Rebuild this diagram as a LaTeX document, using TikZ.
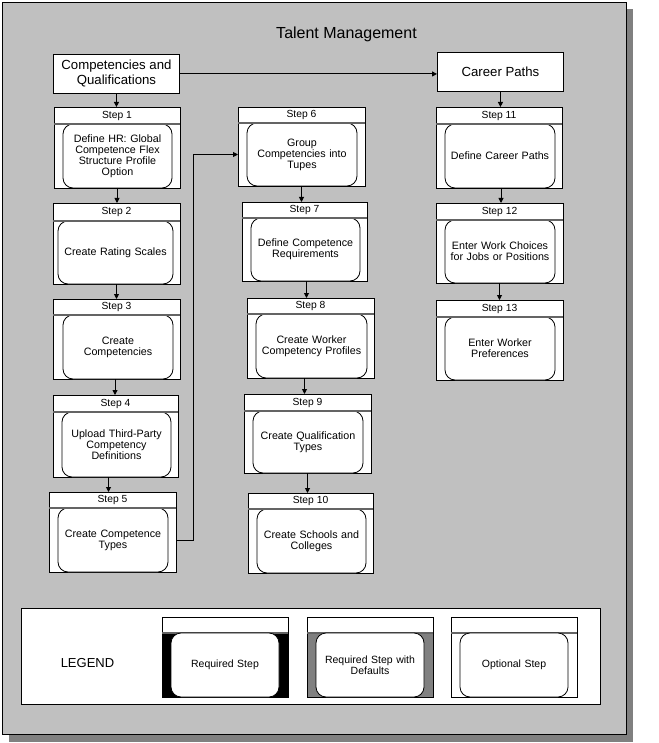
\documentclass[tikz,border=0pt]{standalone}
\usepackage{fontspec}
\setmainfont{Liberation Sans}
\usetikzlibrary{arrows.meta}
\definecolor{panel}{RGB}{192,192,192}
\definecolor{shadowc}{RGB}{128,128,128}
\definecolor{defc}{RGB}{128,128,128}
\definecolor{hdrc}{RGB}{100,100,100}
\tikzset{
 outerbox/.style={draw=black, line width=0.9pt, fill=white, inner sep=0pt, outer sep=0pt},
 hdrbox/.style={draw=black, line width=0.9pt, fill=white, inner sep=0pt, outer sep=0pt, font=\fontsize{10.3}{12}\selectfont},
 innerbox/.style={draw=black, line width=0.8pt, fill=white, rounded corners=10pt, inner sep=0pt, outer sep=0pt, align=center, font=\fontsize{10.7}{11}\selectfont},
 hdrline/.style={draw=hdrc, line width=1.3pt},
 arr/.style={draw=black, line width=0.9pt, -{Triangle[length=5pt,width=5pt]}},
 topbox/.style={draw=black, line width=0.9pt, fill=white, inner sep=0pt, minimum width=126pt, minimum height=39pt, align=center, font=\fontsize{13.2}{15}\selectfont, anchor=north west},
}
\newcommand\stepbox[9]{%
 \node[outerbox, anchor=north west, minimum width=#4pt, minimum height=#5pt] (s#1) at (#2,#3) {};
 \node[hdrbox, anchor=north west, minimum width=#4pt, minimum height=#6pt] (s#1h) at (#2,#3) {Step #1};
 \node[innerbox, anchor=north west, minimum width={(#4-#7-#8)*1pt}, minimum height={(#5-#6)*1pt}, text width={(#4-#7-#8-4)*1pt}] (s#1i) at (#2+#7,#3+#6) {#9};
 \draw[hdrline] (s#1h.south west) -- (s#1h.south east);
}
\newcommand\legbox[6]{%
 \node[outerbox, fill=#4, anchor=north west, minimum width=126pt, minimum height=80pt] (#1) at (#2,#3) {};
 \node[hdrbox, anchor=north west, minimum width=126pt, minimum height=16pt] (#1h) at (#2,#3) {};
 \draw[hdrline] (#1h.south west) -- (#1h.south east);
 \node[innerbox, font=\fontsize{10.5}{10.7}\selectfont, anchor=north west, minimum width=108pt, minimum height=64pt, text width=104pt] (#1i) at (#2+#5,#3+16) {#6};
}
\begin{document}
\begin{tikzpicture}[x=1pt,y=-1pt]
\useasboundingbox (0,0) rectangle (658,743);
% shadow and panel
\fill[shadowc] (9,9) rectangle (633,742);
\draw[fill=panel, line width=0.9pt] (2,2) rectangle (626,734);
\node[font=\fontsize{16}{19}\selectfont] (title) at (346.5,34) {Talent Management};
% top boxes
\node[topbox] (comp) at (53,54) {Competencies and\\Qualifications};
\node[topbox] (career) at (437,52) {Career Paths};
% steps
\stepbox{1}{54}{107}{126}{81}{17}{9}{8}{Define HR: Global\\Competence Flex\\Structure Profile\\Option}
\stepbox{2}{53}{203}{127}{81}{18}{5}{7}{Create Rating Scales}
\stepbox{3}{53}{299}{127}{80}{16}{10}{7}{Create\\Competencies}
\stepbox{4}{53}{395}{125}{82}{17}{9}{7}{Upload Third-Party\\Competency\\Definitions}
\stepbox{5}{49}{492}{127}{80}{16}{9}{8}{Create Competence\\Types}
\stepbox{6}{238}{107}{127}{79}{16}{9}{8}{Group\\Competencies into\\Tupes}
\stepbox{7}{242}{202}{125}{79}{16}{9}{7}{Define Competence\\Requirements}
\stepbox{8}{247}{298}{127}{80}{16}{9}{7}{Create Worker\\Competency Profiles}
\stepbox{9}{244}{394}{127}{79}{17}{9}{8}{Create Qualification\\Types}
\stepbox{10}{248}{493}{125}{80}{16}{9}{7}{Create Schools and\\Colleges}
\stepbox{11}{436}{107}{126}{81}{17}{9}{7}{Define Career Paths}
\stepbox{12}{436}{203}{127}{80}{17}{9}{8}{Enter Work Choices\\for Jobs or Positions}
\stepbox{13}{436}{300}{127}{80}{17}{9}{8}{Enter Worker\\Preferences}
% connectors
\draw[arr] (comp.east) -- (comp.east -| career.west);
\draw[arr] (comp.south) -- (comp.south |- s1.north);
\draw[arr] (career.south) -- (career.south |- s11.north);
\draw[arr] (s1.south) -- (s1.south |- s2.north);
\draw[arr] (s2.south) -- (s2.south |- s3.north);
\draw[arr] ([xshift=-1.5pt]s3.south) -- ([xshift=-1.5pt]s3.south |- s4.north);
\draw[arr] ([xshift=-7pt]s4.south) -- ([xshift=-7pt]s4.south |- s5.north);
\draw[arr] (s5.east |- s5i.center) -- ++(17,0) |- (s6.west |- s6i.center);
\draw[arr] (s6.south) -- (s6.south |- s7.north);
\draw[arr] ([xshift=2pt]s7.south) -- ([xshift=2pt]s7.south |- s8.north);
\draw[arr] ([xshift=-6pt]s8.south) -- ([xshift=-6pt]s8.south |- s9.north);
\draw[arr] (s9.south) -- (s9.south |- s10.north);
\draw[arr] ([xshift=2pt]s11.south) -- ([xshift=2pt]s11.south |- s12.north);
\draw[arr] (s12.south) -- (s12.south |- s13.north);
% legend
\node[draw=black, line width=0.9pt, fill=white, anchor=north west, minimum width=579pt, minimum height=96pt, inner sep=0pt] (legend) at (21,608) {};
\node[font=\fontsize{13}{15}\selectfont] (legtxt) at (87.5,663) {LEGEND};
\legbox{lreq}{162}{617}{black}{9}{Required Step}
\legbox{ldef}{307}{617}{defc}{9}{Required Step with\\Defaults}
\legbox{lopt}{451}{617}{white}{9}{Optional Step}
\end{tikzpicture}
\end{document}
